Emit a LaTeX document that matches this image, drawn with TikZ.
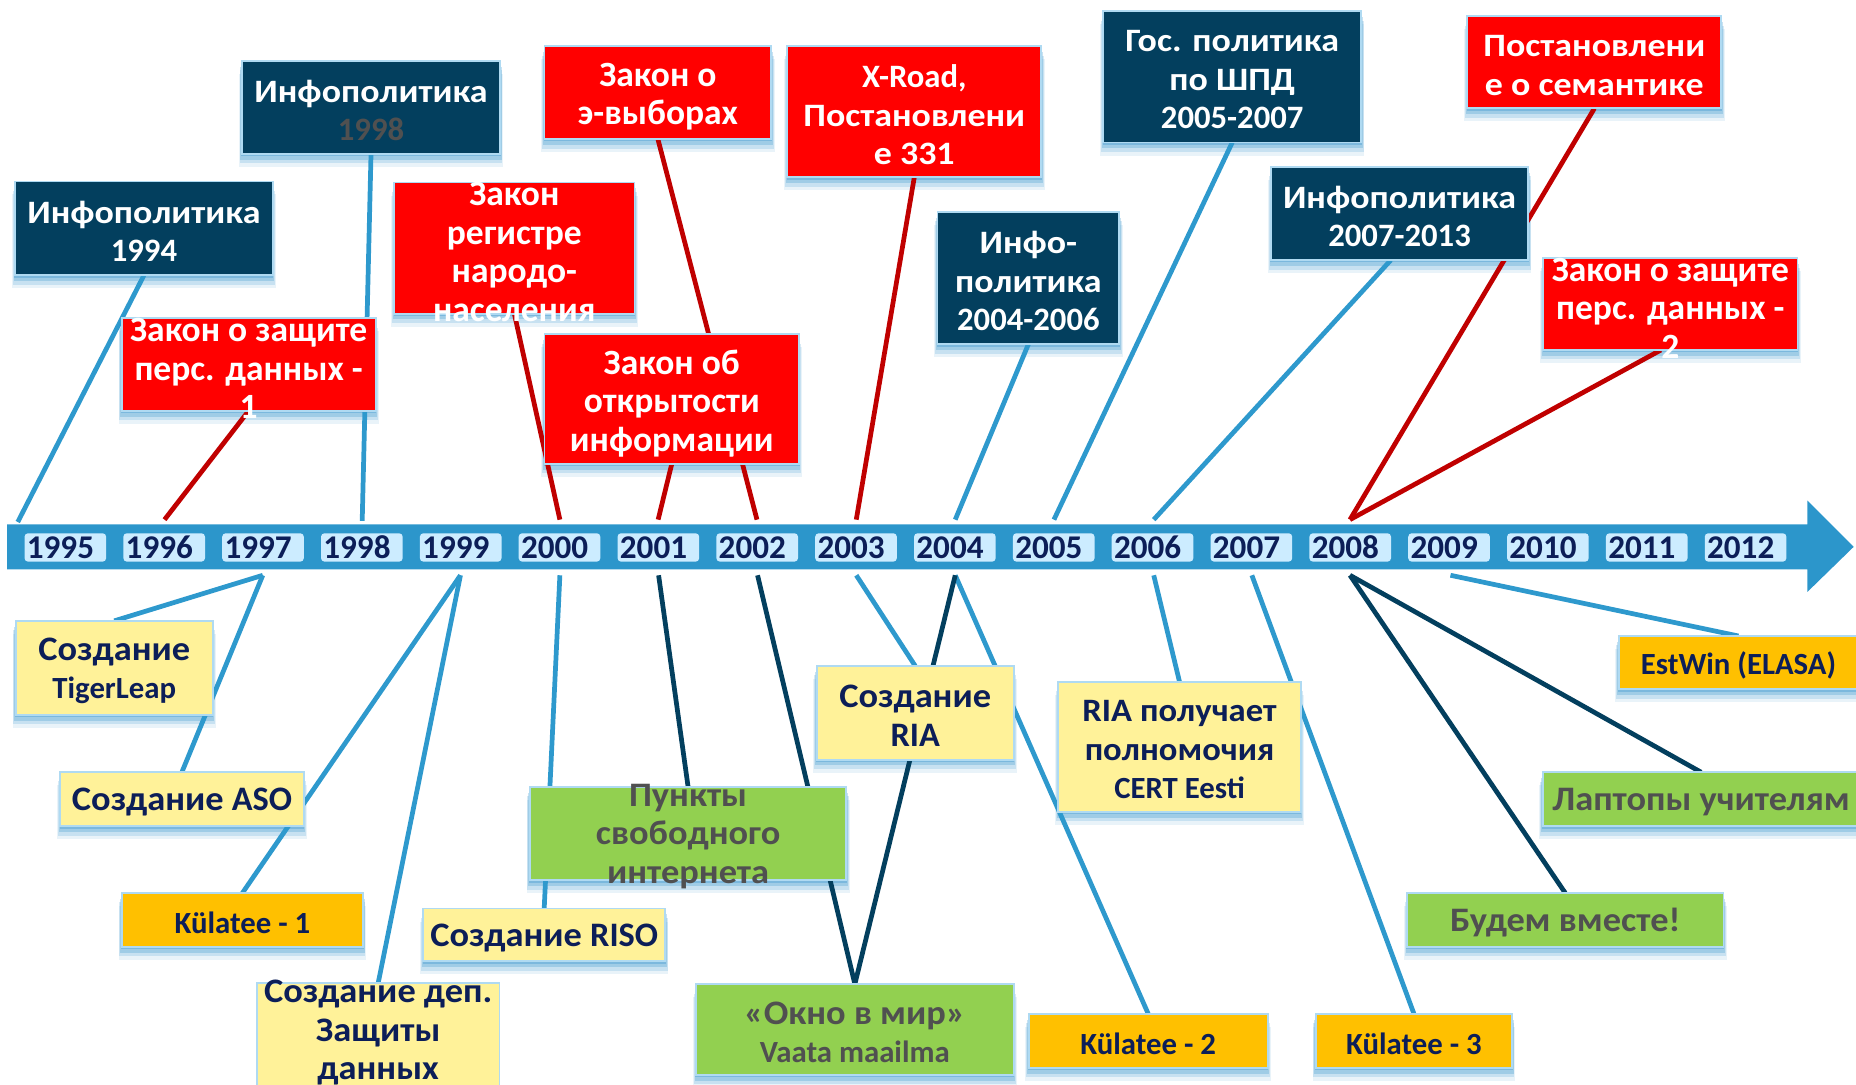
\documentclass[tikz,border=0pt]{standalone}
\usepackage{fontspec}
\setmainfont{Carlito}
\newfontfamily\plain{Carlito}
\newfontfamily\wideA{Carlito}[FakeStretch=1.1]
\newfontfamily\wideB{Carlito}[FakeStretch=1.06]
\usetikzlibrary{fit,calc}
\definecolor{navy}{RGB}{3,63,94}
\definecolor{redbox}{RGB}{255,0,0}
\definecolor{dred}{RGB}{192,0,0}
\definecolor{lblue}{RGB}{46,153,205}
\definecolor{barblue}{RGB}{44,150,203}
\definecolor{yearfill}{RGB}{204,236,255}
\definecolor{ytext}{RGB}{12,30,88}
\definecolor{yellowbox}{RGB}{255,242,153}
\definecolor{orangebox}{RGB}{255,192,0}
\definecolor{greenbox}{RGB}{146,208,80}
\definecolor{graytext}{RGB}{80,80,80}
\definecolor{edgeblue}{RGB}{175,218,242}
\definecolor{sblue}{RGB}{40,140,200}
\pgfdeclarelayer{shadowlayer}
\pgfdeclarelayer{linelayer}
\pgfsetlayers{shadowlayer,linelayer,main}
\tikzset{
 boxbase/.style={inner sep=0pt, outer sep=0pt, draw=edgeblue, line width=0.8pt},
 navyb/.style={boxbase, fill=navy},
 redb/.style={boxbase, fill=redbox},
 yelb/.style={boxbase, fill=yellowbox},
 oranb/.style={boxbase, fill=orangebox},
 greenb/.style={boxbase, fill=greenbox},
 txtbase/.style={align=center, inner sep=0pt, yshift=-1.25pt},
 wtxt/.style={txtbase, text=white, font=\wideA\bfseries\fontsize{13.8}{16.25}\selectfont},
 wtxtL/.style={txtbase, text=white, font=\bfseries\fontsize{15}{16.25}\selectfont, yshift=-0.5pt},
 ntxt/.style={txtbase, text=ytext, font=\wideB\bfseries\fontsize{14.5}{16.25}\selectfont},
 ntxts/.style={txtbase, text=ytext, font=\bfseries\fontsize{13}{16.25}\selectfont},
 gtxt/.style={txtbase, text=graytext, font=\wideB\bfseries\fontsize{14.5}{16.25}\selectfont},
 blueline/.style={draw=lblue, line width=2pt},
 redline/.style={draw=dred, line width=2pt},
 navyline/.style={draw=navy, line width=2pt},
 yearbox/.style={fill=yearfill, rounded corners=1.5pt, minimum width=34.5pt, minimum height=12pt,
   text width=32.5pt, inner xsep=1pt, inner ysep=0pt, align=left, text=ytext,
   font=\bfseries\fontsize{14}{14}\selectfont},
}
\newcommand\mkbox[8]{%
  \node[#2, fit={(#4,#5) (#6,#7)}] (#1) {};
  \node[#3] (#1-t) at (#1.center) {#8};}
\newcommand\shd[1]{%
  \foreach \d/\o in {2/0.3,5/0.25,8/0.18,11/0.1}{%
    \fill[sblue, opacity=\o] ($(#1.north west)+(-\d/4,\d)$) rectangle ($(#1.south east)+(\d/4,\d)$);}}
\begin{document}
\begin{tikzpicture}[x=0.5pt,y=-0.5pt]
\useasboundingbox (0,0) rectangle (1568,916.6);
% timeline
\fill[barblue] (6,443) -- (1527,443) -- (1527,423) -- (1566,462) -- (1527,500) -- (1527,481) -- (6,481) -- cycle;
\foreach \i/\yr in {0/1995,1/1996,2/1997,3/1998,4/1999,5/2000,6/2001,7/2002,8/2003,9/2004,10/2005,11/2006,12/2007,13/2008,14/2009,15/2010,16/2011,17/2012}
  \node[yearbox] (y\yr) at ({20.7+83.5*\i+34.5},462.5) {\yr};
% endpoints on the timeline
\coordinate (T95) at (15,441);
\coordinate (T96) at (139,439);
\coordinate (T98) at (306,440);
\coordinate (T00) at (473,439);
\coordinate (T01) at (556,439);
\coordinate (T02) at (639.5,439);
\coordinate (T03) at (723.4,439);
\coordinate (T04) at (807,439);
\coordinate (T05) at (890.4,439);
\coordinate (T06) at (974.7,439);
\coordinate (T08) at (1140.5,439);
\coordinate (B97) at (222,486);
\coordinate (B99) at (389,486);
\coordinate (B00) at (473,486);
\coordinate (B01) at (556.4,486);
\coordinate (B02) at (640,486);
\coordinate (B03) at (723.4,486);
\coordinate (B04) at (807,486);
\coordinate (B06) at (974.7,486);
\coordinate (B07) at (1057.6,486);
\coordinate (B08) at (1140.5,486);
\coordinate (B09) at (1225.4,486);
% top boxes
\mkbox{ip94}{navyb}{wtxt}{12.7}{153.3}{230.5}{232.6}{Инфополитика\\{\plain 1994}}
\mkbox{ip98}{navyb}{wtxt}{204.4}{51.4}{422.5}{129.8}{Инфополитика\\{\plain\color{graytext}1998}}
\mkbox{reg}{redb}{wtxtL}{333}{154.2}{536}{264.9}{Закон\\регистре\\народо-\\населения}
\mkbox{zz1}{redb}{wtxtL}{102.9}{268.7}{317.3}{347}{Закон о защите\\перс. данных -\\1}
\mkbox{evyb}{redb}{wtxtL}{460}{39}{651.6}{117.5}{Закон о\\э-выборах}
\mkbox{xroad}{redb}{wtxt}{665}{39}{879.8}{149.8}{{\plain X-Road,}\\Постановлени\\е 331}
\mkbox{otkr}{redb}{wtxtL}{460}{282.5}{675}{392}{Закон об\\открытости\\информации}
\mkbox{ip04}{navyb}{wtxt}{792}{179}{945.6}{290.8}{Инфо-\\политика\\{\plain 2004-2006}}
\mkbox{gos}{navyb}{wtxt}{932}{9.4}{1150}{120.4}{Гос. политика\\по ШПД\\{\plain 2005-2007}}
\mkbox{sem}{redb}{wtxt}{1239.7}{13.8}{1454.2}{91.6}{Постановлени\\е о семантике}
\mkbox{ip07}{navyb}{wtxt}{1073.8}{141}{1291}{219.7}{Инфополитика\\{\plain 2007-2013}}
\mkbox{zz2}{redb}{wtxtL}{1303.7}{218.2}{1518.6}{295.7}{Закон о защите\\перс. данных -\\2}
% bottom boxes
\mkbox{tiger}{yelb}{ntxt}{13.4}{524.5}{179.7}{603.7}{Создание\\{\plain\fontsize{13}{16.5}\selectfont TigerLeap}}
\mkbox{aso}{yelb}{ntxt}{51}{652}{256.6}{698}{Создание {\plain ASO}}
\mkbox{kul1}{oranb}{ntxts}{102.9}{754.4}{306.7}{800}{Külatee - 1}
\node[yelb, fit={(217,830.5) (422,935)}] (dep) {};
\node[ntxt] (dep-t) at (319.5,870) {Создание деп.\\Защиты\\данных};
\mkbox{riso}{yelb}{ntxt}{357.5}{767.5}{562}{812}{Создание {\plain RISO}}
\mkbox{punkty}{greenb}{gtxt}{447.6}{664.6}{715}{743.8}{Пункты\\свободного\\интернета}
\mkbox{okno}{greenb}{gtxt}{588}{831.4}{856.4}{908}{«Окно в мир»\\{\plain\fontsize{13}{16}\selectfont Vaata maailma}}
\mkbox{ria}{yelb}{ntxt}{690}{562.6}{856.4}{641.7}{Создание\\{\plain RIA}}
\mkbox{cert}{yelb}{ntxts}{894}{576}{1099}{686}{{\wideB\fontsize{13.8}{16.25}\selectfont RIA получает}\\{\wideB\fontsize{13.8}{16.25}\selectfont полномочия}\\CERT Eesti}
\mkbox{kul2}{oranb}{ntxts}{869}{856.4}{1071}{902}{Külatee - 2}
\mkbox{kul3}{oranb}{ntxts}{1111.6}{856.4}{1277.4}{902}{Külatee - 3}
\mkbox{estwin}{oranb}{ntxts}{1367.4}{537.3}{1570}{582.4}{EstWin (ELASA)}
\mkbox{laptop}{greenb}{gtxt}{1303.3}{652.4}{1571}{698}{Лаптопы учителям}
\mkbox{budem}{greenb}{gtxt}{1188.7}{754.4}{1456}{800}{Будем вместе!}
% shadows
\begin{pgfonlayer}{shadowlayer}
\foreach \n in {ip94,ip98,reg,zz1,evyb,xroad,otkr,ip04,gos,sem,ip07,zz2,tiger,aso,kul1,riso,punkty,okno,ria,cert,kul2,kul3,estwin,laptop,budem}{\shd{\n}}
\end{pgfonlayer}
% connectors
\begin{pgfonlayer}{linelayer}
\draw[blueline] (ip94.south) -- (T95);
\draw[blueline] (ip98.south) -- (T98);
\draw[blueline] (ip04.south) -- (T04);
\draw[blueline] (gos.south) -- (T05);
\draw[blueline] ([xshift=-3.7pt]ip07.south) -- (T06);
\draw[redline] (zz1.south) -- (T96);
\draw[redline] (reg.south) -- (T00);
\draw[redline] (evyb.south) -- (T02);
\draw[redline] (otkr.south) -- (T01);
\draw[redline] (xroad.south) -- (T03);
\draw[redline] (sem.south) -- (T08);
\draw[redline] ([xshift=-4pt]zz2.south) -- (T08);
\draw[blueline] (B97) -- (tiger.north);
\draw[blueline] (B97) -- (aso.north);
\draw[blueline] (B99) -- (kul1.north);
\draw[blueline] (B99) -- (dep.north);
\draw[blueline] (B00) -- (riso.north);
\draw[blueline] (B03) -- (ria.north);
\draw[blueline] (B04) -- (kul2.north);
\draw[blueline] (B06) -- (cert.north);
\draw[blueline] (B07) -- (kul3.north);
\draw[blueline] (B09) -- (estwin.north);
\draw[navyline] (B01) -- (punkty.north);
\draw[navyline] (B02) -- (okno.north);
\draw[navyline] (B04) -- (okno.north);
\draw[navyline] (B08) -- (budem.north);
\draw[navyline] (B08) -- (laptop.north);
\end{pgfonlayer}
\end{tikzpicture}
\end{document}
